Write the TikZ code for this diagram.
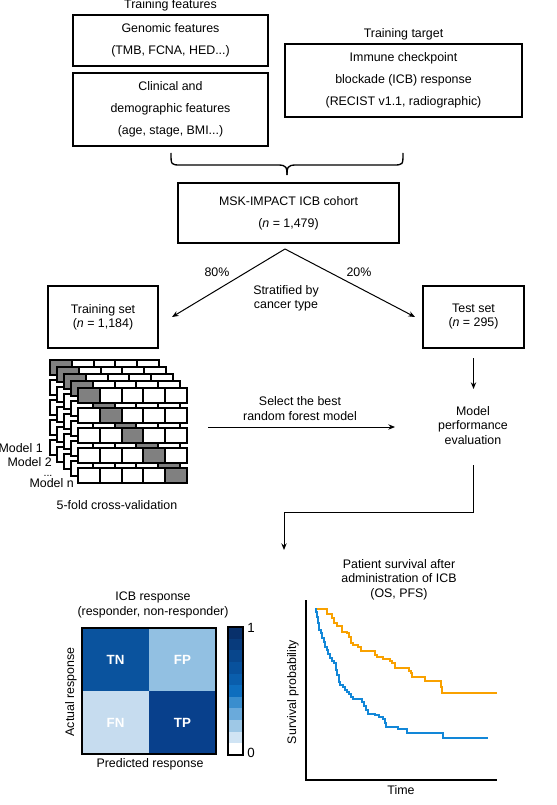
\documentclass[tikz,border=0pt]{standalone}
\usepackage{fontspec}
\setmainfont{Liberation Sans}
\usetikzlibrary{arrows.meta,calc}
\definecolor{tnc}{HTML}{0A539E}
\definecolor{fpc}{HTML}{92C0E2}
\definecolor{fnc}{HTML}{C6DCEF}
\definecolor{tpc}{HTML}{08408C}
\definecolor{orangec}{HTML}{F9A100}
\definecolor{bluec}{HTML}{1287D8}
\definecolor{brickgray}{HTML}{808080}
\definecolor{cb1}{HTML}{08306B}
\definecolor{cb2}{HTML}{083B7C}
\definecolor{cb3}{HTML}{08468C}
\definecolor{cb4}{HTML}{08519C}
\definecolor{cb5}{HTML}{0A5EAC}
\definecolor{cb6}{HTML}{0E6EBE}
\definecolor{cb7}{HTML}{3A8ECE}
\definecolor{cb8}{HTML}{6AAADB}
\definecolor{cb9}{HTML}{9EC8E6}
\definecolor{cb10}{HTML}{D0E4F4}
\begin{document}
\begin{tikzpicture}[x=0.75pt,y=-0.75pt,
  box/.style={draw, line width=1.5pt, align=center, inner sep=0pt, font=\fontsize{9.3}{16.3}\selectfont},
  smallbox/.style={draw, line width=1.5pt, align=center, inner sep=0pt, font=\fontsize{9.3}{10.5}\selectfont},
  lbl/.style={align=center, inner sep=0pt, font=\fontsize{9.3}{11}\selectfont},
  arr/.style={-{Stealth[length=5pt,width=4pt]}, line width=0.75pt},
  brick/.style={draw, line width=1.5pt},
  cell/.style={inner sep=0pt, minimum width=50.25pt, minimum height=47.25pt, text=white, font=\fontsize{10}{12}\selectfont\bfseries},
  curve/.style={line width=1.5pt}
]
\useasboundingbox (0,0) rectangle (556,805);

% ---- top boxes
\node[lbl, anchor=base] (tf) at (170.5,9) {Training features};
\node[box, minimum width=146.7pt, minimum height=38pt] (genomic) at (170.5,40.3) {Genomic features\\(TMB, FCNA, HED...)};
\node[box, minimum width=146.7pt, minimum height=54.75pt] (clinical) at (170.5,109.2) {Clinical and\\demographic features\\(age, stage, BMI...)};
\node[lbl, anchor=base] (tt) at (403.5,37.3) {Training target};
\node[box, minimum width=177.75pt, minimum height=54.75pt] (target) at (403.5,80.5) {Immune checkpoint\\blockade (ICB) response\\(RECIST v1.1, radiographic)};

% brace
\draw[line width=1pt] (171,153) .. controls (171,165) .. (181,165) -- (278,165) .. controls (287,165) and (287,168) .. (287,175);
\draw[line width=1pt] (403,153) .. controls (403,165) .. (393,165) -- (296,165) .. controls (287,165) and (287,168) .. (287,175);

\node[box, minimum width=165.75pt, minimum height=45pt] (cohort) at (288.5,213) {MSK-IMPACT ICB cohort\\(\textit{n} = 1,479)};

% split
\coordinate (split) at (285,249);
\coordinate (toTrain) at (172,317);
\coordinate (toTest) at (415,317);
\draw[arr] (split) -- (toTrain);
\draw[arr] (split) -- (toTest);
\node[lbl, anchor=base] (p80) at (217,276.5) {80\%};
\node[lbl, anchor=base] (p20) at (359,276.5) {20\%};
\node[lbl, font=\fontsize{9.3}{10.5}\selectfont] (strat) at (286,298.1) {Stratified by\\cancer type};

\node[smallbox, minimum width=82.5pt, minimum height=46.5pt] (train) at (103,317) {Training set\\(\textit{n} = 1,184)};
\node[smallbox, minimum width=75.75pt, minimum height=46.5pt] (test) at (473.5,317) {Test set\\(\textit{n} = 295)};

% ---- bricks
\foreach \L in {0,...,4}{
  \foreach \r in {0,...,4}{
    \foreach \c in {0,...,4}{
      \ifnum\c=\r \def\fc{brickgray}\else\def\fc{white}\fi
      \draw[brick, fill=\fc] ({50+7*\L+21.8*\c},{360+6.9*\L+20*\r}) rectangle ++(21.8,15);
    }
  }
}
\node[lbl, anchor=base east] (m1) at (43,452.5) {Model 1};
\node[lbl, anchor=base east] (m2) at (52,466.5) {Model 2};
\node[lbl, anchor=base, font=\fontsize{8}{9}\selectfont] (mdots) at (48,476) {...};
\node[lbl, anchor=base east] (mn) at (74,487.5) {Model n};
\node[lbl, anchor=base] (cv) at (117,509.3) {5-fold cross-validation};

% ---- select best
\coordinate (cvout) at (208,427);
\coordinate (evin) at (395,427);
\draw[arr] (cvout) -- (evin);
\node[lbl, font=\fontsize{9.3}{11.25}\selectfont] (sel) at (300,408.6) {Select the best\\random forest model};

\node[lbl, font=\fontsize{9.3}{10.9}\selectfont] (eval) at (473,425.4) {Model\\performance\\evaluation};
\draw[arr] ($(test.south)+(0,9)$) -- ($(test.south)+(0,40)$);
\coordinate (evout) at (473,465);
\coordinate (results) at (284,550);
\draw[arr] (evout) -- ++(0,47) -| (results);

% ---- confusion matrix
\node[lbl, anchor=base] (cmt1) at (153,600.3) {ICB response};
\node[lbl, anchor=base] (cmt2) at (153,615.3) {(responder, non-responder)};
\node[cell, fill=tnc] (tn) at (115.5,659.5) {TN};
\node[cell, fill=fpc] (fp) at (182.5,659.5) {FP};
\node[cell, fill=fnc] (fn) at (115.5,722.5) {FN};
\node[cell, fill=tpc] (tp) at (182.5,722.5) {TP};
\draw[line width=1pt] (82,628) rectangle (216,754);
\foreach \col [count=\i from 0] in {cb1,cb2,cb3,cb4,cb5,cb6,cb7,cb8,cb9,cb10,white}{
  \fill[\col] (228,{627+11.64*\i}) rectangle ++(15,11.7);
}
\draw[line width=1pt] (228,627) rectangle (243,755);
\node[lbl, anchor=west, font=\fontsize{10}{12}\selectfont] (one) at (247,628) {1};
\node[lbl, anchor=west, font=\fontsize{10}{12}\selectfont] (zero) at (247,753) {0};
\node[lbl, rotate=90] (actual) at (71,692) {Actual response};
\node[lbl, anchor=base] (pred) at (150,767.3) {Predicted response};

% ---- survival
\node[lbl, font=\fontsize{9.3}{10.9}\selectfont] (stitle) at (399,579.6) {Patient survival after\\administration of ICB\\(OS, PFS)};
\coordinate (ytop) at (306,600);
\coordinate (origin) at (306,780);
\coordinate (xend) at (497,780);
\draw[line width=1.1pt] (ytop) -- (origin) -- (xend);
\node[lbl, rotate=90] (sprob) at (293,692) {Survival probability};
\node[lbl, anchor=base] (time) at (401,794.3) {Time};
\begin{scope}[shift={(305,600)},scale=1/3]
\draw[curve, orangec] (30,28) -- (65,28) -- (65,42) -- (80,42) -- (80,55) -- (88,55) -- (88,70) -- (97,70) -- (97,78) -- (110,78) -- (110,95) -- (125,95) -- (125,100) -- (133,100) -- (133,112) -- (137,112) -- (137,130) -- (145,130) -- (145,136) -- (160,136) -- (160,142) -- (168,142) -- (168,154) -- (210,154) -- (210,164) -- (215,164) -- (215,170) -- (233,170) -- (233,176) -- (255,176) -- (255,183) -- (260,183) -- (260,188) -- (270,188) -- (270,203) -- (312,203) -- (312,212) -- (318,212) -- (318,218) -- (322,218) -- (322,230) -- (360,230) -- (360,242) -- (408,242) -- (408,260) -- (410,260) -- (410,278) -- (575,278);
\draw[curve, bluec] (30,28) -- (33,28) -- (33,35) -- (37,35) -- (37,50) -- (40,50) -- (40,70) -- (43,70) -- (43,90) -- (47,90) -- (47,100) -- (52,100) -- (52,113) -- (57,113) -- (57,125) -- (60,125) -- (60,140) -- (65,140) -- (65,150) -- (70,150) -- (70,163) -- (75,163) -- (75,175) -- (80,175) -- (80,182) -- (87,182) -- (87,190) -- (92,190) -- (92,210) -- (97,210) -- (97,225) -- (102,225) -- (102,245) -- (105,245) -- (105,255) -- (115,255) -- (115,262) -- (120,262) -- (120,270) -- (127,270) -- (127,277) -- (133,277) -- (133,282) -- (138,282) -- (138,290) -- (143,290) -- (143,296) -- (172,296) -- (172,305) -- (177,305) -- (177,318) -- (183,318) -- (183,330) -- (188,330) -- (188,342) -- (210,342) -- (210,345) -- (222,345) -- (222,350) -- (233,350) -- (233,357) -- (240,357) -- (240,368) -- (243,368) -- (243,380) -- (278,380) -- (278,386) -- (307,386) -- (307,398) -- (415,398) -- (415,415) -- (550,415);
\end{scope}
\end{tikzpicture}
\end{document}
